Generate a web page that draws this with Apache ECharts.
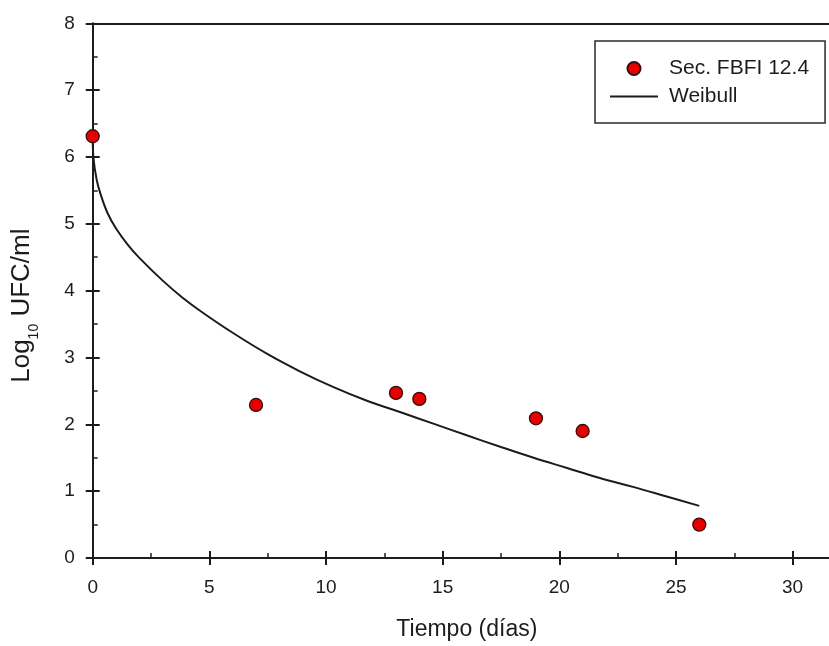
<!DOCTYPE html>
<html>
<head>
<meta charset="utf-8">
<script src="https://cdn.jsdelivr.net/npm/echarts@6/dist/echarts.min.js"></script>
<style>
  html, body { margin: 0; padding: 0; background: #ffffff; }
  #chart { width: 829px; height: 646px; }
</style>
</head>
<body>
<div id="chart"></div>
<script>
// Observed counts (log10 UFC/ml) over storage time
const diasObs = [0, 7, 13, 14, 19, 21, 26];
const logObs  = [6.31, 2.29, 2.47, 2.38, 2.09, 1.90, 0.50];

// Fitted Weibull inactivation curve, sampled along its length
const diasWeibull = [0, 0.03, 0.17, 0.35, 0.65, 1.0, 1.5, 2.0, 3.0, 3.8, 4.6, 6.0, 7.5, 8.9,
                     10.3, 11.7, 13.2, 14.6, 16.0, 17.5, 18.9, 20.3, 21.7, 23.2, 24.6, 26.0];
const logWeibull  = [6.31, 6.00, 5.66, 5.43, 5.15, 4.93, 4.69, 4.49, 4.15, 3.91, 3.70, 3.37, 3.05, 2.79,
                     2.56, 2.36, 2.18, 2.01, 1.84, 1.66, 1.50, 1.35, 1.20, 1.06, 0.92, 0.78];

// Axis ticks
const xMajorTicks = [0, 5, 10, 15, 20, 25, 30];
const xMinorTicks = [2.5, 7.5, 12.5, 17.5, 22.5, 27.5];
const yMajorTicks = [0, 1, 2, 3, 4, 5, 6, 7, 8];
const yMinorTicks = [0.5, 1.5, 2.5, 3.5, 4.5, 5.5, 6.5, 7.5];

const serieObs = 'Sec. FBFI 12.4';
const serieModelo = 'Weibull';

const FONT = '"Liberation Sans", Arial, Helvetica, sans-serif';
const INK = '#1c1c1c';
const X_MIN = 0, X_MAX = 31.56, Y_MIN = 0, Y_MAX = 8;

const pairs = (xs, ys) => xs.map((x, i) => [x, ys[i]]);

const baseX = { type: 'value', min: X_MIN, max: X_MAX, splitLine: { show: false }, gridIndex: 0 };
const baseY = { type: 'value', min: Y_MIN, max: Y_MAX, splitLine: { show: false }, gridIndex: 0 };

const chart = echarts.init(document.getElementById('chart'), null, { renderer: 'canvas' });

chart.setOption({
  backgroundColor: '#ffffff',
  animation: false,
  textStyle: { fontFamily: FONT, color: INK },
  grid: { left: 92.7, top: 23.3, right: 0, bottom: 86.7, containLabel: false },
  legend: {
    orient: 'vertical',
    left: 595,
    top: 41,
    padding: [17, 16, 16, 15],
    itemGap: 7,
    itemWidth: 48,
    itemHeight: 13,
    symbolKeepAspect: true,
    borderColor: '#2a2a2a',
    borderWidth: 1.5,
    borderRadius: 0,
    backgroundColor: '#ffffff',
    textStyle: { fontFamily: FONT, fontSize: 21, color: INK, lineHeight: 20, padding: [0, 0, 0, 6] },
    data: [
      { name: serieObs },
      { name: serieModelo, icon: 'path://M0,0h48v2h-48z', itemStyle: { color: INK } }
    ]
  },
  xAxis: [
    Object.assign({}, baseX, {
      position: 'bottom',
      name: 'Tiempo (días)',
      nameLocation: 'middle',
      nameGap: 60,
      nameTextStyle: { fontFamily: FONT, fontSize: 23, color: INK, padding: [0, 0, 0, 12] },
      axisLine: { show: true, onZero: false, lineStyle: { color: INK, width: 2 } },
      axisTick: { show: true, inside: false, length: 7, customValues: xMajorTicks, lineStyle: { color: INK, width: 2 } },
      axisLabel: { show: true, margin: 20, customValues: xMajorTicks, fontFamily: FONT, fontSize: 19, color: INK }
    }),
    Object.assign({}, baseX, {
      position: 'bottom',
      axisLine: { show: false, onZero: false },
      axisTick: { show: true, inside: true, length: 7, customValues: xMajorTicks, lineStyle: { color: INK, width: 2 } },
      axisLabel: { show: false }
    }),
    Object.assign({}, baseX, {
      position: 'bottom',
      axisLine: { show: false, onZero: false },
      axisTick: { show: true, inside: true, length: 5, customValues: xMinorTicks, lineStyle: { color: INK, width: 1.5 } },
      axisLabel: { show: false }
    }),
    Object.assign({}, baseX, {
      position: 'top',
      axisLine: { show: true, onZero: false, lineStyle: { color: INK, width: 2 } },
      axisTick: { show: false },
      axisLabel: { show: false }
    })
  ],
  yAxis: [
    Object.assign({}, baseY, {
      position: 'left',
      name: '{a|Log}{b|10}{a| UFC/ml}',
      nameLocation: 'middle',
      nameGap: 52,
      nameTextStyle: {
        fontFamily: FONT, color: INK, padding: [0, 30, 0, 0],
        rich: {
          a: { fontFamily: FONT, fontSize: 26, color: INK, lineHeight: 26 },
          b: { fontFamily: FONT, fontSize: 14, color: INK, padding: [24, 0, 0, 0] }
        }
      },
      axisLine: { show: true, onZero: false, lineStyle: { color: INK, width: 2 } },
      axisTick: { show: true, inside: false, length: 7, customValues: yMajorTicks, lineStyle: { color: INK, width: 2 } },
      axisLabel: { show: true, margin: 18, customValues: yMajorTicks, fontFamily: FONT, fontSize: 19, color: INK }
    }),
    Object.assign({}, baseY, {
      position: 'left',
      axisLine: { show: false, onZero: false },
      axisTick: { show: true, inside: true, length: 7, customValues: yMajorTicks, lineStyle: { color: INK, width: 2 } },
      axisLabel: { show: false }
    }),
    Object.assign({}, baseY, {
      position: 'left',
      axisLine: { show: false, onZero: false },
      axisTick: { show: true, inside: true, length: 5, customValues: yMinorTicks, lineStyle: { color: INK, width: 1.5 } },
      axisLabel: { show: false }
    })
  ],
  series: [
    {
      name: serieModelo,
      type: 'line',
      xAxisIndex: 0,
      yAxisIndex: 0,
      data: pairs(diasWeibull, logWeibull),
      showSymbol: false,
      symbol: 'none',
      smooth: 0.4,
      lineStyle: { color: INK, width: 2 },
      itemStyle: { color: INK },
      z: 2
    },
    {
      name: serieObs,
      type: 'scatter',
      xAxisIndex: 0,
      yAxisIndex: 0,
      data: pairs(diasObs, logObs),
      symbol: 'circle',
      symbolSize: 13,
      itemStyle: { color: '#e60000', borderColor: '#3a0a0a', borderWidth: 1.3, opacity: 1 },
      z: 3
    }
  ]
});
</script>
</body>
</html>
